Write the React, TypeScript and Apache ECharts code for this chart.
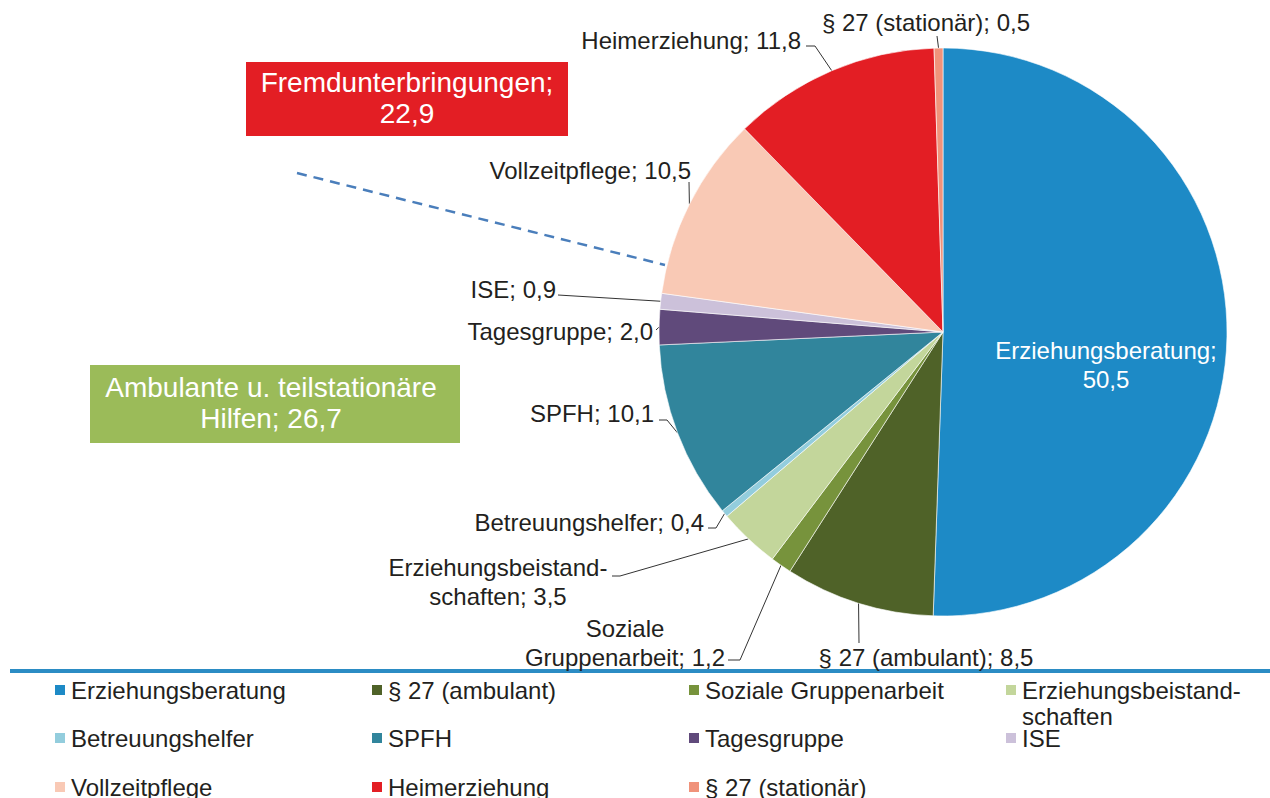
import React, { useEffect, useRef } from 'react';
import * as echarts from 'echarts';

// ---- data ----
const categories = [
  'Erziehungsberatung',
  '§ 27 (ambulant)',
  'Soziale Gruppenarbeit',
  'Erziehungsbeistand-\nschaften',
  'Betreuungshelfer',
  'SPFH',
  'Tagesgruppe',
  'ISE',
  'Vollzeitpflege',
  'Heimerziehung',
  '§ 27 (stationär)',
];
const labelNames = [
  'Erziehungsberatung;\n',
  '§ 27 (ambulant); ',
  'Soziale\nGruppenarbeit; ',
  'Erziehungsbeistand-\nschaften; ',
  'Betreuungshelfer; ',
  'SPFH; ',
  'Tagesgruppe; ',
  'ISE; ',
  'Vollzeitpflege; ',
  'Heimerziehung; ',
  '§ 27 (stationär); ',
];
const values = [50.5, 8.5, 1.2, 3.5, 0.4, 10.1, 2.0, 0.9, 10.5, 11.8, 0.5];
const legendRows = [
  [0, 1, 2, 3],
  [4, 5, 6, 7],
  [8, 9, 10],
];
const groupTexts = ['Fremdunterbringungen;\n22,9', 'Ambulante u. teilstationäre\nHilfen; 26,7'];

// ---- styles / layout ----
const colors = [
  '#1d8ac6', '#4f6228', '#77933c', '#c3d69b', '#93cddd', '#31859c',
  '#604a7b', '#ccc1da', '#f9c9b5', '#e31e24', '#f0927a',
];
const FONT = '"Liberation Sans", Arial, sans-serif';
const TXT = '#231f20';

type Spec = { x: number; y: number; align: string; line?: number[][] };
const labelSpec: Spec[] = [
  { x: 1106, y: 365, align: 'center' },
  { x: 926, y: 657, align: 'center', line: [[859, 643], [859, 643]] },
  { x: 625, y: 643, align: 'center', line: [[740, 660], [728, 660]] },
  { x: 498, y: 582, align: 'center', line: [[620, 576], [612, 576]] },
  { x: 704, y: 522, align: 'right', line: [[716, 528], [708, 528]] },
  { x: 654, y: 413, align: 'right', line: [[667, 420], [659, 420]] },
  { x: 653, y: 331, align: 'right', line: [[656, 330], [656, 330]] },
  { x: 556, y: 289, align: 'right', line: [[558, 295], [558, 295]] },
  { x: 691, y: 170, align: 'right', line: [[689, 182], [689, 182]] },
  { x: 801, y: 40, align: 'right', line: [[815, 46], [806, 46]] },
  { x: 926, y: 22, align: 'center', line: [[937, 36], [937, 36]] },
];

const legendTops = [651, 725, 774];

export default function App() {
  const ref = useRef<HTMLDivElement>(null);
  useEffect(() => {
    if (!ref.current) return;
    const chart = echarts.init(ref.current, undefined, { renderer: 'svg' });
    const data = categories.map((name, i) => {
      const d: any = { name, value: values[i], itemStyle: { color: colors[i] } };
      if (i === 0) {
        d.label = { position: 'inside', color: '#fff' };
        d.labelLine = { show: false };
      }
      return d;
    });
    const legends = legendRows.map((row, r) => ({
      top: legendTops[r],
      left: 53,
      width: 1400,
      orient: 'horizontal',
      padding: 0,
      itemGap: 10,
      itemWidth: 12,
      itemHeight: 12,
      icon: 'rect',
      selectedMode: false,
      data: row.map((i) => categories[i]),
      // multi-line legend names: keep the first line level with the marker
      formatter: (name: string) => (name.includes('\n') ? '\n' + name : name),
      textStyle: { fontFamily: FONT, fontSize: 24, lineHeight: 26, color: TXT, width: 289 },
    }));
    chart.setOption({
      animation: false,
      backgroundColor: '#fff',
      legend: legends,
      series: [
        {
          type: 'pie',
          center: [943, 332],
          radius: [0, 284],
          startAngle: 90,
          clockwise: true,
          avoidLabelOverlap: false,
          emphasis: { disabled: true },
          itemStyle: { borderColor: '#fff', borderWidth: 0.6 },
          label: {
            show: true,
            position: 'outside',
            fontFamily: FONT,
            fontSize: 24,
            lineHeight: 29,
            color: TXT,
            formatter: (p: any) => labelNames[p.dataIndex] + values[p.dataIndex].toFixed(1).replace('.', ','),
          },
          labelLine: { show: true, length: 10, length2: 10, lineStyle: { color: '#333', width: 1 } },
          labelLayout: (p: any) => {
            const s = labelSpec[p.dataIndex];
            const res: any = { x: s.x, y: s.y, align: s.align, verticalAlign: 'middle' };
            const pts = p.labelLinePoints;
            if (s.line && pts && pts[0]) {
              res.labelLinePoints = [pts[0], s.line[0], s.line[1]];
            }
            return res;
          },
          data,
        },
      ],
      graphic: [
        { type: 'rect', shape: { x: 10, y: 669, width: 1260, height: 4 }, style: { fill: '#2b8cc4' }, silent: true },
        { type: 'rect', shape: { x: 246, y: 62, width: 322, height: 74 }, style: { fill: '#e31e24' }, silent: true },
        {
          type: 'text', x: 407, y: 98, silent: true,
          style: { text: groupTexts[0], fill: '#fff', font: `28px ${FONT}`, lineHeight: 31, align: 'center', verticalAlign: 'middle' },
        },
        { type: 'rect', shape: { x: 90, y: 365, width: 370, height: 78 }, style: { fill: '#9bbb59' }, silent: true },
        {
          type: 'text', x: 271, y: 403, silent: true,
          style: { text: groupTexts[1], fill: '#fff', font: `28px ${FONT}`, lineHeight: 31, align: 'center', verticalAlign: 'middle' },
        },
        {
          type: 'line', shape: { x1: 297, y1: 173, x2: 665, y2: 265 }, silent: true,
          style: { stroke: '#4a7ebb', lineWidth: 2.5, lineDash: [10, 7] },
        },
      ],
    });
    return () => chart.dispose();
  }, []);
  return <div ref={ref} style={{ position: 'fixed', left: 0, top: 0, width: 1270, height: 798 }} />;
}
